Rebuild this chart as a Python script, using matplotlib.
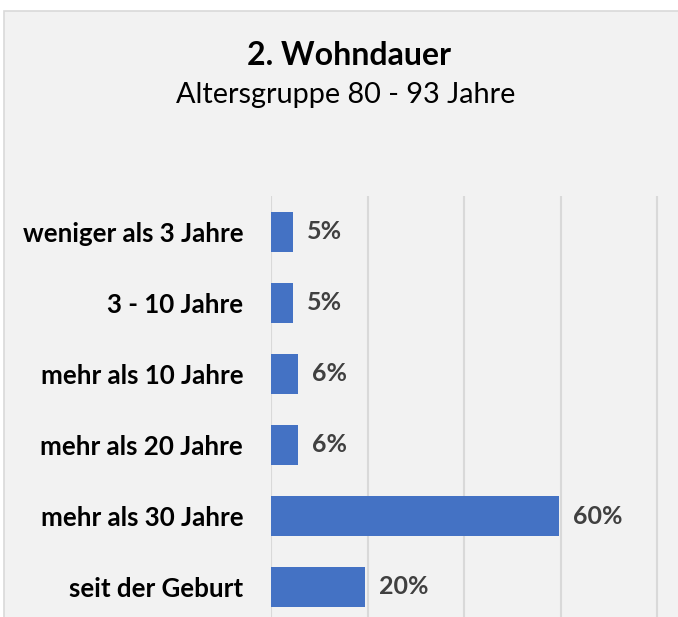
import matplotlib.pyplot as plt
from matplotlib.patches import Rectangle

# Chart data
categories = ["weniger als 3 Jahre", "3 - 10 Jahre", "mehr als 10 Jahre",
              "mehr als 20 Jahre", "mehr als 30 Jahre", "seit der Geburt"]
shares = [4.6, 4.6, 5.6, 5.6, 59.7, 19.5]
title = "2. Wohndauer"
subtitle = "Altersgruppe 80 - 93 Jahre"

BLUE = "#4472c4"
GRID = "#d9d9d9"
PANEL = "#f2f2f2"
LABEL_GREY = "#404040"

plt.rcParams["font.family"] = ["Lato", "DejaVu Sans"]

W, H = 678, 617
fig = plt.figure(figsize=(W / 100, H / 100), dpi=100)
fig.patch.set_facecolor("white")

# grey chart panel with thin border
fig.patches.append(Rectangle((4 / W, -0.05), 1.1, 1 - 11 / H + 0.05,
                             transform=fig.transFigure, facecolor=PANEL,
                             edgecolor=GRID, linewidth=1.2, zorder=-5))

fig.text(0.515, 1 - 65 / H, title, ha="center", va="baseline",
         fontsize=23, fontweight="bold")
fig.text(0.51, 1 - 103 / H, subtitle, ha="center", va="baseline",
         fontsize=20.8)

# plot area: 0% at x=271px, 20% steps of ~96.6px, rows of 71px from y=196px
left = 271 / W
width = 5 * 96.6 / W
top = 196.5 / H
height = 6 * 71 / H
ax = fig.add_axes([left, 1 - top - height, width, height])
ax.set_facecolor("none")
ax.set_zorder(2)

ypos = list(range(len(categories)))
ax.barh(ypos, shares, height=0.56, color=BLUE, zorder=3)
ax.set_xlim(0, 100)
ax.set_ylim(len(categories) - 0.5, -0.5)
ax.set_xticks([0, 20, 40, 60, 80, 100])
ax.xaxis.grid(True, color=GRID, linewidth=1.5, zorder=0)
ax.set_axisbelow(True)
ax.tick_params(axis="x", length=0, labelbottom=False)
ax.tick_params(axis="y", length=0, pad=20)
ax.set_yticks(ypos)
ax.set_yticklabels(categories, fontsize=18.6, fontweight="bold")
for s in ax.spines.values():
    s.set_visible(False)

for y, v in zip(ypos, shares):
    ax.annotate(f"{v:.0f}%", xy=(v, y), xytext=(10, 0),
                textcoords="offset points", ha="left", va="center",
                fontsize=18, fontweight="bold", color=LABEL_GREY)

fig.savefig("out.png", dpi=100)
